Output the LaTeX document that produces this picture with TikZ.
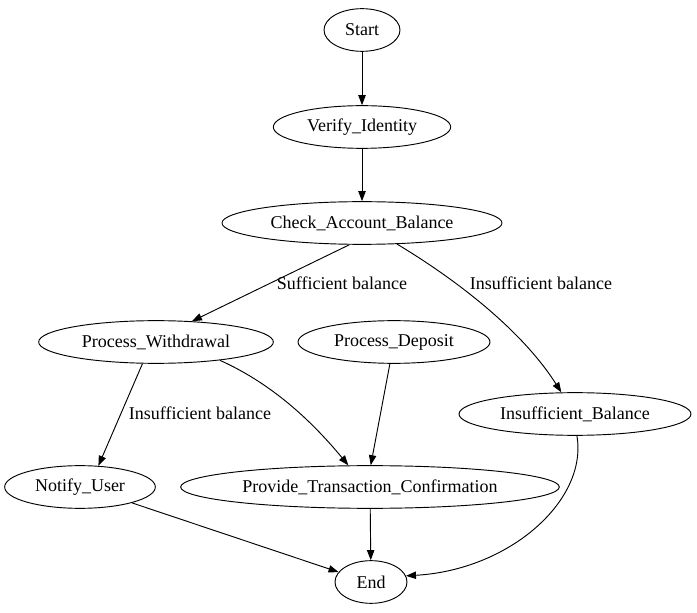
\documentclass[tikz,border=0pt]{standalone}
\usepackage{fontspec}
\setmainfont{Liberation Serif}
\usetikzlibrary{shapes.geometric,arrows.meta}

\begin{document}
\begin{tikzpicture}[x=0.75pt,y=-0.75pt,
	state/.style={draw, ellipse, inner sep=0pt, minimum height=32pt, font=\fontsize{13.5}{15}\selectfont},
	elabel/.style={font=\fontsize{13.5}{15}\selectfont},
	every path/.style={line width=0.7pt},
	>={Triangle[length=7.5pt,width=5.5pt]}]
	\useasboundingbox (0,0) rectangle (697,613);
	\node[state, minimum width=57pt] (start) at (362,30) {Start};
	\node[state, minimum width=133pt] (verify) at (362,127) {Verify\_Identity};
	\node[state, minimum width=210pt] (check) at (362,223) {Check\_Account\_Balance};
	\node[state, minimum width=176pt] (withdraw) at (156,342) {Process\_Withdrawal};
	\node[state, minimum width=144pt] (deposit) at (394,342) {Process\_Deposit};
	\node[state, minimum width=174pt] (insuff) at (575,414) {Insufficient\_Balance};
	\node[state, minimum width=113pt] (notify) at (80,487) {Notify\_User};
	\node[state, minimum width=284pt] (confirm) at (370,487) {Provide\_Transaction\_Confirmation};
	\node[state, minimum width=54pt] (end) at (371,582) {End};
	% edges
	\draw[->] (start) -- (verify);
	\draw[->] (verify) -- (check);
	\draw[->] (check.240) -- (withdraw.30);
	\node[elabel] (lsuff) at (342,283) {Sufficient balance};
	\draw[->] (check) .. controls (465,285) and (525,335) .. (insuff);
	\node[elabel] (linsuff) at (541,283) {Insufficient balance};
	\draw[->] (withdraw.238) -- (notify.49);
	\node[elabel] (lnotify) at (200,413) {Insufficient balance};
	\draw[->] (withdraw.344) .. controls (275,385) and (315,425) .. (confirm.135);
	\draw[->] (deposit) -- (confirm.88);
	\draw[->] (insuff.275) .. controls (588,500) and (510,570) .. (end.10);
	\draw[->] (notify.343) -- (end.163);
	\draw[->] (confirm) -- (end);
\end{tikzpicture}
\end{document}
